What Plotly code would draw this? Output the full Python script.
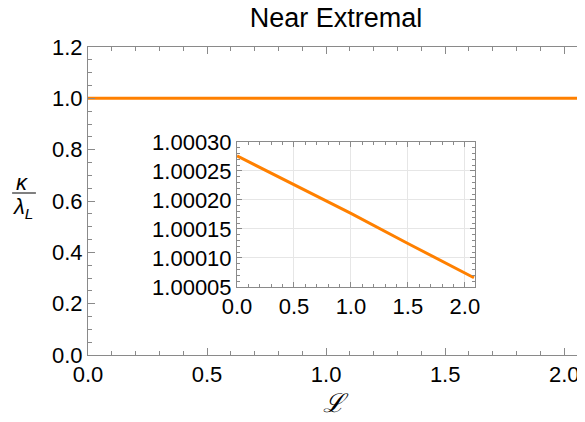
import plotly.graph_objects as go

# Data
L_main = [0.0, 0.5, 1.0, 1.5, 2.08]
kappa_main = [1.0, 1.0, 1.0, 1.0, 1.0]

L_inset = [0.0, 0.5, 1.0, 1.5, 2.08]
kappa_inset = [1.000276, 1.000226, 1.000177, 1.000125, 1.000066]

main_xticks = [0.0, 0.5, 1.0, 1.5, 2.0]
main_xticklabels = ["0.0", "0.5", "1.0", "1.5", "2.0"]
main_yticks = [0.0, 0.2, 0.4, 0.6, 0.8, 1.0, 1.2]
main_yticklabels = ["0.0", "0.2", "0.4", "0.6", "0.8", "1.0", "1.2"]
inset_yticks = [1.00005, 1.00010, 1.00015, 1.00020, 1.00025, 1.00030]
inset_yticklabels = ["1.00005", "1.00010", "1.00015", "1.00020", "1.00025", "1.00030"]

ORANGE = "rgb(255,128,0)"
FRAME = "#8a8a8a"
FONT = "Liberation Sans, Arial, sans-serif"

# the page body has an 8px margin; the figure is sized to fill the rest
W, H = 577, 414
OFF = 8
PLOT_TOP, PLOT_BOT = 47 - OFF, 355 - OFF
PH = PLOT_BOT - PLOT_TOP

fig = go.Figure()
fig.add_trace(go.Scatter(x=L_main, y=kappa_main, mode="lines",
                         line=dict(color=ORANGE, width=3), xaxis="x", yaxis="y",
                         showlegend=False, hoverinfo="skip"))
fig.add_trace(go.Scatter(x=L_inset, y=kappa_inset, mode="lines",
                         line=dict(color=ORANGE, width=3), xaxis="x2", yaxis="y2",
                         showlegend=False, hoverinfo="skip"))

axis_common = dict(showline=True, linecolor=FRAME, linewidth=1, mirror="allticks",
                   ticks="inside", tickcolor=FRAME, tickwidth=1, automargin=False,
                   zeroline=False, tickfont=dict(size=22, color="black", family=FONT))

fig.update_layout(
    width=W, height=H,
    margin=dict(l=88 - OFF, r=1, t=PLOT_TOP, b=H - PLOT_BOT, autoexpand=False),
    paper_bgcolor="white", plot_bgcolor="white",
    font=dict(family=FONT, color="black"),
    title=dict(text="Near Extremal", x=0.5, xref="paper", xanchor="center",
               y=1 - (18 - OFF) / H, yref="container", yanchor="middle",
               font=dict(size=27, family=FONT, color="black")),
    xaxis=dict(range=[0, 2.083], tickvals=main_xticks, ticktext=main_xticklabels,
               ticklen=7, showgrid=False,
               minor=dict(dtick=0.1, ticklen=4, tickcolor=FRAME, ticks="inside", showgrid=False),
               **axis_common),
    yaxis=dict(range=[0, 1.2], tickvals=main_yticks, ticktext=main_yticklabels,
               ticklen=7, showgrid=False,
               minor=dict(dtick=0.05, ticklen=4, tickcolor=FRAME, ticks="inside", showgrid=False),
               **axis_common),
    xaxis2=dict(domain=[0.3004, 0.780], anchor="y2", range=[0, 2.088],
                tickvals=main_xticks, ticktext=main_xticklabels, ticklen=5,
                showgrid=True, gridcolor="#e6e6e6", gridwidth=1,
                minor=dict(dtick=0.1, ticklen=3, tickcolor=FRAME, ticks="inside", showgrid=False),
                **axis_common),
    yaxis2=dict(domain=[0.2208, 0.6916], anchor="x2", range=[1.00005, 1.00030],
                tickvals=inset_yticks, ticktext=inset_yticklabels, ticklen=5,
                showgrid=True, gridcolor="#e6e6e6", gridwidth=1,
                minor=dict(dtick=0.00001, ticklen=3, tickcolor=FRAME, ticks="inside", showgrid=False),
                **axis_common),
)

# x-axis label
fig.add_annotation(text="<i>ℒ</i>", xref="paper", yref="paper", x=0.5, y=(355 - 403) / PH,
                   xanchor="center", yanchor="middle", showarrow=False,
                   font=dict(size=26, family="DejaVu Serif, serif"))

# y-axis label as a fraction kappa / lambda_L
fig.add_annotation(text="<i>κ</i>", xref="paper", yref="paper", x=-0.133, y=(355 - 182) / PH,
                   xanchor="center", yanchor="middle", showarrow=False,
                   font=dict(size=22, family=FONT))
fig.add_annotation(text="<i>λ<sub>L</sub></i>", xref="paper", yref="paper", x=-0.131, y=(355 - 208) / PH,
                   xanchor="center", yanchor="middle", showarrow=False,
                   font=dict(size=22, family=FONT))
fig.add_shape(type="line", xref="paper", yref="paper", x0=-0.153, x1=-0.105,
              y0=(355 - 193) / PH, y1=(355 - 193) / PH, line=dict(color="black", width=1))

fig.write_html("out.html")
